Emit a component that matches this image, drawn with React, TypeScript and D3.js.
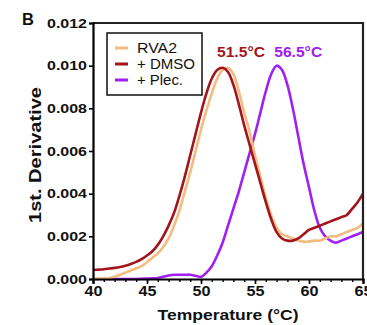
import React, { useEffect, useRef } from 'react';
import * as d3 from 'd3';

// temperature grid (°C), every 0.5 degree
const temps = d3.range(40, 65.01, 0.5);

const rva2 = [
  0.00002, 0.00002, 0.00003, 0.00005, 0.0001, 0.0002, 0.0003, 0.0004, 0.0005, 0.0006,
  0.0008, 0.001, 0.0012, 0.0015, 0.0019, 0.0025, 0.0032, 0.0041, 0.005, 0.006,
  0.007, 0.0079, 0.0087, 0.0094, 0.0098, 0.0099, 0.0096, 0.0088, 0.0078, 0.0069,
  0.0058, 0.0048, 0.0038, 0.003, 0.0024, 0.0021, 0.002, 0.0019, 0.0018, 0.00175,
  0.00175, 0.0018, 0.0018, 0.0019, 0.002, 0.002, 0.0021, 0.0022, 0.0023, 0.0024, 0.0026,
];

const dmso = [
  0.00042, 0.00044, 0.00046, 0.00049, 0.00052, 0.00056, 0.00062, 0.0007, 0.0008, 0.00093,
  0.0011, 0.0013, 0.0016, 0.002, 0.0025, 0.0031, 0.0039, 0.0048, 0.0058, 0.0068,
  0.0078, 0.0087, 0.0094, 0.0098, 0.0099, 0.0097, 0.0091, 0.0082, 0.0072, 0.0063,
  0.0054, 0.0045, 0.0036, 0.0028, 0.0022, 0.0019, 0.0018, 0.0018, 0.0019, 0.0021,
  0.0023, 0.0024, 0.0025, 0.0026, 0.0027, 0.0028, 0.0029, 0.003, 0.0033, 0.0036, 0.004,
];

const plec = [
  0, 0, 0, 0, 0, 0, 0, 0, 0, 0.00001,
  0.00002, 0.00003, 0.00005, 0.0001, 0.00016, 0.0002, 0.0002, 0.0002, 0.0002, 0.00015,
  0.0001, 0.0003, 0.0006, 0.0011, 0.0017, 0.0025, 0.0033, 0.0041, 0.005, 0.0059,
  0.0068, 0.0078, 0.0088, 0.0096, 0.01, 0.0098, 0.0091, 0.008, 0.0067, 0.0054,
  0.0043, 0.0032, 0.0024, 0.002, 0.0018, 0.0017, 0.0018, 0.0019, 0.002, 0.0021, 0.0022,
];

const seriesNames = ['RVA2', '+ DMSO', '+ Plec.'];
const seriesColors = ['#F2BC80', '#A3141C', '#A020F0'];
const yTicks = [0, 0.002, 0.004, 0.006, 0.008, 0.01, 0.012];
const xTicks = [40, 45, 50, 55, 60, 65];
const peakLabels = [
  { text: '51.5°C', temp: 53.7, color: '#A3141C' },
  { text: '56.5°C', temp: 59.0, color: '#A020F0' },
];

const W = 367;
const H = 325;
const FONT = 'Liberation Sans, Arial, sans-serif';

const App = () => {
  const svgRef = useRef<SVGSVGElement>(null);

  useEffect(() => {
    const svg = d3.select(svgRef.current);
    svg.selectAll('*').remove();

    const x = d3.scaleLinear().domain([40, 65]).range([93, 363]);
    const y = d3.scaleLinear().domain([0, 0.012]).range([279, 23]);

    const g = svg.append('g');

    // curves
    const allSeries = [rva2, dmso, plec];
    const line = d3.line<number>()
      .x((_, i) => x(temps[i]))
      .y(d => y(d))
      .curve(d3.curveCatmullRom.alpha(0.5));

    // draw order: plec, rva2, dmso (dmso on top near the peaks)
    [2, 0, 1].forEach(k => {
      g.append('path')
        .datum(allSeries[k])
        .attr('d', line)
        .attr('fill', 'none')
        .attr('stroke', seriesColors[k])
        .attr('stroke-width', 2.6)
        .attr('stroke-linejoin', 'round');
    });

    // frame top + right
    g.append('path')
      .attr('d', `M${x(40)},${y(0.012)}H${x(65)}V${y(0)}`)
      .attr('fill', 'none')
      .attr('stroke', '#222')
      .attr('stroke-width', 2.2);

    // y axis
    const yAxis = g.append('g')
      .attr('transform', `translate(${x(40)},0)`)
      .call(d3.axisLeft(y).tickValues(yTicks).tickFormat(d3.format('.3f')).tickSize(4).tickPadding(2));
    yAxis.select('.domain').attr('stroke', '#000').attr('stroke-width', 2.2);
    yAxis.selectAll('.tick line').attr('stroke', '#000').attr('stroke-width', 1.6);
    yAxis.selectAll('.tick text')
      .attr('font-family', FONT).attr('font-weight', 'bold').attr('font-size', 13.5)
      .attr('fill', '#111')
      .attr('textLength', 40).attr('lengthAdjust', 'spacingAndGlyphs');

    // x axis: minor ticks every degree, labelled majors
    const xAxisMinor = g.append('g')
      .attr('transform', `translate(0,${y(0)})`)
      .call(d3.axisBottom(x).tickValues(d3.range(40, 66, 1)).tickFormat(() => '').tickSize(3));
    xAxisMinor.select('.domain').remove();
    xAxisMinor.selectAll('.tick line').attr('stroke', '#000').attr('stroke-width', 1.4);

    const xAxis = g.append('g')
      .attr('transform', `translate(0,${y(0)})`)
      .call(d3.axisBottom(x).tickValues(xTicks).tickSize(5).tickPadding(2));
    xAxis.select('.domain').attr('stroke', '#000').attr('stroke-width', 2.2);
    xAxis.selectAll('.tick line').attr('stroke', '#000').attr('stroke-width', 1.6);
    xAxis.selectAll('.tick text')
      .attr('font-family', FONT).attr('font-weight', 'bold').attr('font-size', 14)
      .attr('fill', '#111')
      .attr('textLength', 18).attr('lengthAdjust', 'spacingAndGlyphs');

    // axis titles
    svg.append('text')
      .attr('x', 228).attr('y', 320)
      .attr('text-anchor', 'middle')
      .attr('font-family', FONT).attr('font-weight', 'bold').attr('font-size', 15.5)
      .attr('fill', '#111')
      .attr('textLength', 141).attr('lengthAdjust', 'spacingAndGlyphs')
      .text('Temperature (°C)');

    svg.append('text')
      .attr('transform', 'translate(41,155) rotate(-90)')
      .attr('text-anchor', 'middle')
      .attr('font-family', FONT).attr('font-weight', 'bold').attr('font-size', 16)
      .attr('fill', '#111')
      .attr('textLength', 136).attr('lengthAdjust', 'spacingAndGlyphs')
      .text('1st. Derivative');

    // panel letter
    svg.append('text')
      .attr('x', 22).attr('y', 25)
      .attr('font-family', FONT).attr('font-weight', 'bold').attr('font-size', 16.5)
      .attr('fill', '#111')
      .text('B');

    // peak annotations
    peakLabels.forEach(p => {
      svg.append('text')
        .attr('x', x(p.temp)).attr('y', 57)
        .attr('text-anchor', 'middle')
        .attr('font-family', FONT).attr('font-weight', 'bold').attr('font-size', 14)
        .attr('fill', p.color)
        .attr('textLength', 48).attr('lengthAdjust', 'spacingAndGlyphs')
        .text(p.text);
    });

    // legend
    const lg = svg.append('g').attr('transform', 'translate(107,33)');
    lg.append('rect')
      .attr('width', 95).attr('height', 62)
      .attr('fill', '#fff').attr('stroke', '#111').attr('stroke-width', 1.5);
    const legendWidths = [40, 58, 46];
    seriesNames.forEach((name, i) => {
      const cy = 15 + i * 16;
      lg.append('line')
        .attr('x1', 8).attr('x2', 21).attr('y1', cy).attr('y2', cy)
        .attr('stroke', seriesColors[i]).attr('stroke-width', 3);
      lg.append('text')
        .attr('x', 30).attr('y', cy + 5)
        .attr('font-family', FONT).attr('font-size', 14)
        .attr('fill', '#111')
        .attr('textLength', legendWidths[i]).attr('lengthAdjust', 'spacingAndGlyphs')
        .text(name);
    });
  }, []);

  return (
    <div style={{ position: 'absolute', left: 0, top: 0, width: W, height: H, background: '#fff' }}>
      <svg ref={svgRef} width={W} height={H} style={{ display: 'block' }} />
    </div>
  );
};

export default App;
